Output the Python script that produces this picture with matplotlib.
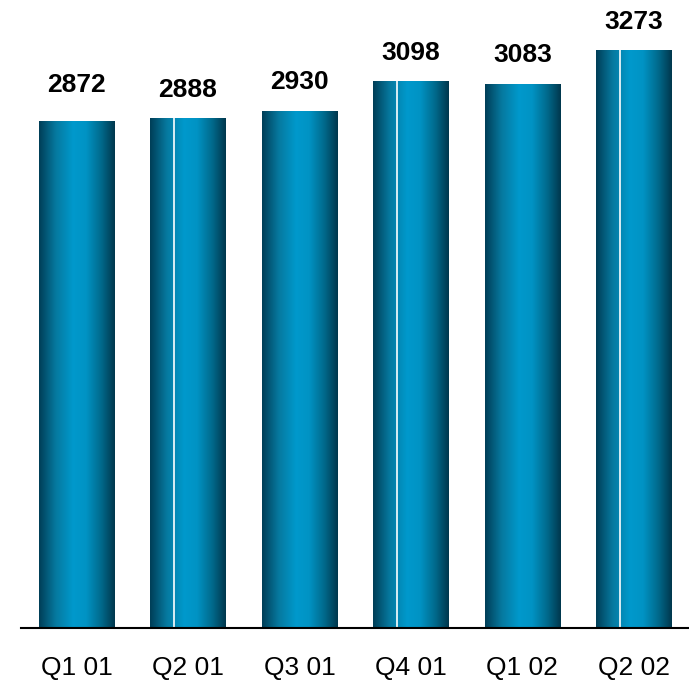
import numpy as np
import matplotlib.pyplot as plt
from matplotlib.colors import LinearSegmentedColormap

quarters = ['Q1 01', 'Q2 01', 'Q3 01', 'Q4 01', 'Q1 02', 'Q2 02']
values = [2872, 2888, 2930, 3098, 3083, 3273]
# bars that show a thin white seam in the original
seams = [False, True, False, True, False, True]

plt.rcParams['font.family'] = ['Liberation Sans', 'DejaVu Sans']

fig = plt.figure(figsize=(6.89, 6.87), dpi=100)
ax = fig.add_axes([0.030, 0.0859, 0.971, 0.9141])

cmap = LinearSegmentedColormap.from_list('blue', [
    (0.0, '#003E57'), (0.22, '#06799F'), (0.45, '#0099CC'),
    (0.62, '#0093C4'), (0.82, '#006A8C'), (1.0, '#00374D')])
grad = np.linspace(0, 1, 256).reshape(1, -1)

x = np.arange(len(values))
w = 0.68
bars = ax.bar(x, values, width=w, color='none', edgecolor='none')
for i, (b, v, s) in enumerate(zip(bars, values, seams)):
    x0 = b.get_x()
    im = ax.imshow(grad, cmap=cmap, aspect='auto',
                   extent=(x0, x0 + w, 0, v), zorder=2)
    im.set_clip_path(b)
    if s:
        ax.vlines(x0 + w * 0.31, 0, v, color='white', lw=1.2, zorder=3)
    off = 205 if i == 0 else 162
    ax.text(b.get_x() + w / 2, v + off, str(v), ha='center', va='center',
            fontsize=19, fontweight='bold')

ax.set_xlim(-0.5, 5.5)
ax.set_ylim(0, 3558)
ax.set_xticks(x)
ax.set_xticklabels(quarters, fontsize=19)
ax.tick_params(axis='x', length=0, pad=20)
ax.set_yticks([])
for sp in ['top', 'right', 'left']:
    ax.spines[sp].set_visible(False)
ax.spines['bottom'].set_linewidth(1.5)
ax.spines['bottom'].set_zorder(4)

fig.savefig('out.png', dpi=100)
